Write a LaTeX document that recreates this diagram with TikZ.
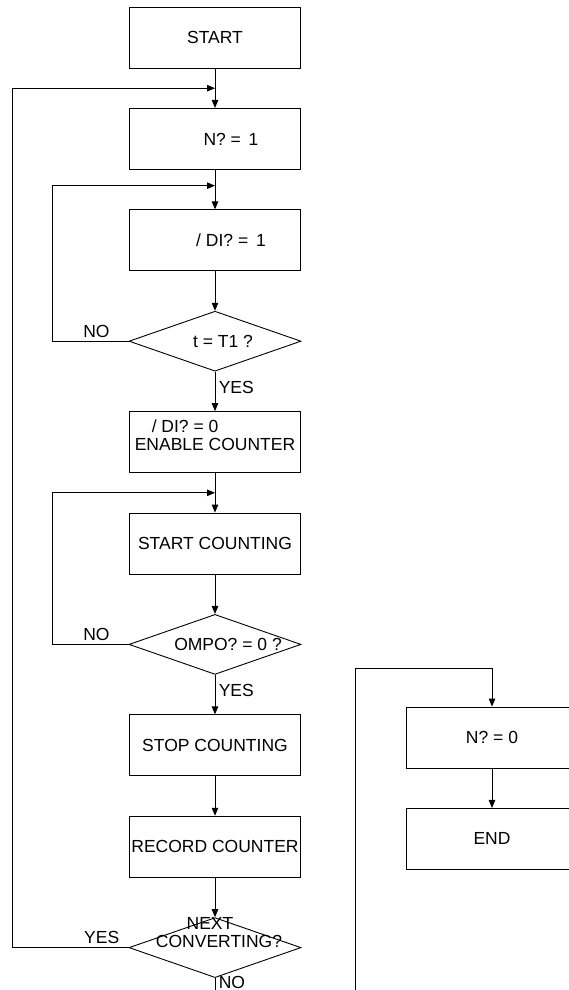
\documentclass[tikz,border=0pt]{standalone}
\usepackage{fontspec}
\setmainfont{Liberation Sans}
\usetikzlibrary{calc,positioning,shapes.geometric,arrows.meta}

\begin{document}
\begin{tikzpicture}[
        x=1pt, y=-1pt,
        node distance=39.5pt,
        font=\fontsize{17.5}{18}\selectfont,
        line width=0.9pt,
        process/.style={draw, minimum width=171pt, minimum height=61pt, inner sep=1pt},
        decision/.style={draw, diamond, minimum width=172pt, minimum height=60pt, inner sep=0pt},
        arrow/.style={-{Triangle[length=8pt, width=6.5pt]}},
    ]
    \useasboundingbox (0,0) rectangle (569,990);

    % Main column
    \node[process] (start) at (215,37.5) {START};
    \node[process, below=of start] (nset) {\hspace*{32pt}N? = \,1};
    \node[process, below=of nset] (diset) {\hspace*{32pt}/ DI? = \,1};
    \node[decision, below=of diset, label={[xshift=8pt]center:t = T1 ?}] (timer) {};
    \node[process, below=of timer, align=left] (enable) {\hspace*{17pt}/ DI? = 0\\ENABLE COUNTER\\[-4pt]};
    \node[process, below=of enable] (count) {START COUNTING};
    \node[decision, below=of count, label={[xshift=13pt]center:OMPO? = 0 ?}] (ompo) {};
    \node[process, below=of ompo] (stop) {STOP COUNTING};
    \node[process, below=of stop] (record) {RECORD COUNTER};
    \node[decision, below=of record, label={[xshift=4pt, yshift=15pt, align=center]center:NEXT\hspace*{18pt}\\CONVERTING?}] (next) {};

    % Right column
    \node[process] (nzero) at (492,737.5) {N? = 0};
    \node[process, below=of nzero] (finish) {END};

    % Helpers
    \coordinate (outerx) at (12,0);
    \coordinate (innerx) at (52,0);
    \coordinate (loopa) at ($(start.south)!0.5!(nset.north)$);
    \coordinate (loopb) at ($(nset.south)!0.4!(diset.north)$);
    \coordinate (loopc) at ($(enable.south)!0.5!(count.north)$);
    \coordinate (exit) at (215,995);
    \coordinate (entry) at (355,995);

    % Lines
    \draw[arrow] (start) -- (nset);
    \draw[arrow] (nset) -- (diset);
    \draw[arrow] (diset) -- (timer);
    \draw[arrow] (timer) -- node[right, pos=0.4] {YES} (enable);
    \draw[arrow] (enable) -- (count);
    \draw[arrow] (count) -- (ompo);
    \draw[arrow] (ompo) -- node[right, pos=0.4] {YES} (stop);
    \draw[arrow] (stop) -- (record);
    \draw[arrow] (record) -- (next);
    \draw (next) -- node[right, pos=0.28] {NO} (exit);

    % Loops
    \draw[arrow] (timer.west) -- node[above, pos=0.42] {NO} (timer.west -| innerx) |- (loopb);
    \draw[arrow] (ompo.west) -- node[above, pos=0.42] {NO} (ompo.west -| innerx) |- (loopc);
    \draw[arrow] (next.west) -- node[above, pos=0.23] {YES} (next.west -| outerx) |- (loopa);

    \draw[arrow] (entry) |- ($(nzero.north)+(0,-38)$) -- (nzero.north);
    \draw[arrow] (nzero) -- (finish);

\end{tikzpicture}
\end{document}
